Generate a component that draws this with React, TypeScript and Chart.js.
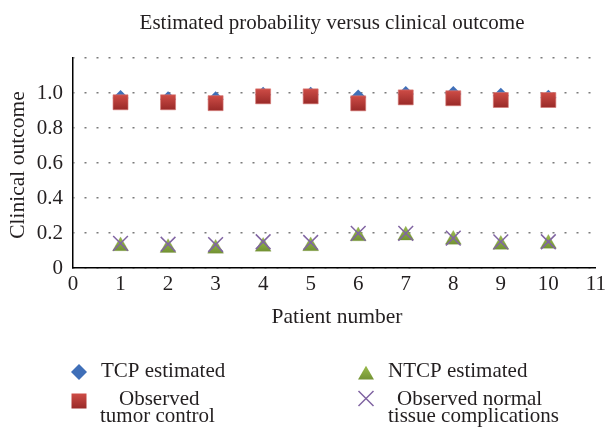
import React, { useEffect, useRef } from "react";
import { Chart, registerables } from "chart.js";

Chart.register(...registerables);

const TITLE = "Estimated probability versus clinical outcome";
const X_TITLE = "Patient number";
const Y_TITLE = "Clinical outcome";

const patients = [1, 2, 3, 4, 5, 6, 7, 8, 9, 10];
const tcpEstimated = [0.971, 0.964, 0.964, 0.99, 0.99, 0.975, 0.994, 0.994, 0.985, 0.973];
const observedTumorControl = [0.947, 0.947, 0.942, 0.981, 0.981, 0.941, 0.975, 0.97, 0.96, 0.96];
const ntcpEstimated = [0.125, 0.115, 0.111, 0.122, 0.125, 0.182, 0.186, 0.162, 0.133, 0.139];
const observedNormalComplications = [0.141, 0.136, 0.134, 0.15, 0.146, 0.198, 0.198, 0.171, 0.149, 0.15];

const legendTCP = "TCP estimated";
const legendObsTumor = ["Observed", "tumor control"];
const legendNTCP = "NTCP estimated";
const legendObsNormal = ["Observed normal", "tissue complications"];

const BLUE = "#3F6FB8";
const RED_TOP = "#CE4C46";
const RED_BOT = "#992A28";
const GREEN_TOP = "#94B548";
const GREEN_BOT = "#6C8B30";
const PURPLE = "#8064A2";
const TEXT = "#231F20";
const SERIF = '"Liberation Serif", "Times New Roman", serif';

function toPoints(vals: number[]) {
  return vals.map((v, i) => ({ x: patients[i], y: v }));
}

function vGrad(chart: any, py: number, half: number, top: string, bot: string) {
  const g = chart.ctx.createLinearGradient(0, py - half, 0, py + half);
  g.addColorStop(0, top);
  g.addColorStop(1, bot);
  return g;
}

function scriptGrad(top: string, bot: string, half: number) {
  return (ctx: any) => {
    const chart = ctx.chart;
    const ys = chart.scales && chart.scales.y;
    if (!ys || !ctx.parsed) return top;
    const py = ys.getPixelForValue(ctx.parsed.y);
    if (!Number.isFinite(py)) return top;
    return vGrad(chart, py, half, top, bot);
  };
}

const textPlugin = {
  id: "customText",
  afterDraw(chart: any) {
    const c = chart.ctx as CanvasRenderingContext2D;
    c.save();
    c.fillStyle = TEXT;
    c.textBaseline = "alphabetic";

    // title
    c.font = `21px ${SERIF}`;
    c.textAlign = "center";
    c.fillText(TITLE, 332, 29);

    // axis titles
    c.font = `21.5px ${SERIF}`;
    c.fillText(X_TITLE, 337, 323);
    c.save();
    c.translate(24, 165);
    c.rotate(-Math.PI / 2);
    c.fillText(Y_TITLE, 0, 0);
    c.restore();

    // legend markers
    const lx = 79;
    const rx = 366;
    c.fillStyle = BLUE;
    c.beginPath();
    c.moveTo(lx, 364);
    c.lineTo(lx + 8, 372);
    c.lineTo(lx, 380);
    c.lineTo(lx - 8, 372);
    c.closePath();
    c.fill();

    c.fillStyle = vGrad(chart, 401, 7.5, RED_TOP, RED_BOT);
    c.fillRect(lx - 7.5, 393.5, 15, 15);

    const tr = 9.2;
    const ty = 375;
    c.fillStyle = vGrad(chart, ty, 7, GREEN_TOP, GREEN_BOT);
    c.beginPath();
    c.moveTo(rx, ty - tr);
    c.lineTo(rx + tr * Math.sin((2 * Math.PI) / 3), ty - tr * Math.cos((2 * Math.PI) / 3));
    c.lineTo(rx - tr * Math.sin((2 * Math.PI) / 3), ty - tr * Math.cos((2 * Math.PI) / 3));
    c.closePath();
    c.fill();

    c.strokeStyle = PURPLE;
    c.lineWidth = 1.5;
    c.beginPath();
    c.moveTo(rx - 7.5, 391);
    c.lineTo(rx + 7.5, 406);
    c.moveTo(rx + 7.5, 391);
    c.lineTo(rx - 7.5, 406);
    c.stroke();

    c.fillStyle = TEXT;
    c.font = `21px ${SERIF}`;
    c.textAlign = "left";
    c.fillText(legendTCP, 101, 377);
    c.fillText(legendObsTumor[0], 119, 405);
    c.fillText(legendObsTumor[1], 100, 422);
    c.fillText(legendNTCP, 388, 377);
    c.fillText(legendObsNormal[0], 397, 405);
    c.fillText(legendObsNormal[1], 388, 422);
    c.restore();
  },
};

export default function App() {
  const ref = useRef<HTMLCanvasElement | null>(null);

  useEffect(() => {
    if (!ref.current) return;
    const chart = new Chart(ref.current, {
      type: "scatter",
      data: {
        datasets: [
          {
            label: legendTCP,
            data: toPoints(tcpEstimated),
            pointStyle: "rectRot",
            pointRadius: 8,
            pointBackgroundColor: BLUE,
            pointBorderColor: BLUE,
            pointBorderWidth: 0,
            order: 4,
          },
          {
            label: legendObsTumor.join(" "),
            data: toPoints(observedTumorControl),
            pointStyle: "rect",
            pointRadius: 10.6,
            pointBackgroundColor: scriptGrad(RED_TOP, RED_BOT, 7.5),
            pointBorderColor: "rgba(214,120,116,0.8)",
            pointBorderWidth: 0.8,
            order: 3,
          },
          {
            label: legendNTCP,
            data: toPoints(ntcpEstimated),
            pointStyle: "triangle",
            pointRadius: 9.2,
            pointBackgroundColor: scriptGrad(GREEN_TOP, GREEN_BOT, 7),
            pointBorderColor: "rgba(120,150,60,0.6)",
            pointBorderWidth: 0.5,
            order: 2,
          },
          {
            label: legendObsNormal.join(" "),
            data: toPoints(observedNormalComplications),
            pointStyle: "crossRot",
            pointRadius: 10.4,
            pointBackgroundColor: PURPLE,
            pointBorderColor: PURPLE,
            pointBorderWidth: 1.5,
            order: 1,
          },
        ],
      },
      options: {
        responsive: false,
        animation: false,
        devicePixelRatio: 1,
        layout: { padding: { top: 58, right: 12, left: 0, bottom: 0 } },
        plugins: {
          legend: { display: false },
          title: { display: false },
          tooltip: { enabled: false },
        },
        scales: {
          x: {
            type: "linear",
            min: 0,
            max: 11,
            afterFit: (s: any) => {
              s.height = 160;
            },
            ticks: {
              stepSize: 1,
              autoSkip: false,
              maxRotation: 0,
              padding: 4,
              color: TEXT,
              font: { family: SERIF, size: 21 },
            },
            grid: { display: false, drawTicks: false },
            border: { display: true, color: "#000", width: 1.5 },
          },
          y: {
            type: "linear",
            min: 0,
            max: 1.2,
            afterFit: (s: any) => {
              s.width = 73;
            },
            ticks: {
              stepSize: 0.2,
              padding: 10,
              color: TEXT,
              font: { family: SERIF, size: 21 },
              callback: (v: any) => {
                const n = Number(v);
                if (Math.abs(n) < 1e-9) return "0";
                if (Math.abs(n - 1.2) < 1e-6) return "";
                return n.toFixed(1);
              },
            },
            grid: { color: "#7a7a7a", lineWidth: 1.5, drawTicks: false },
            border: { display: true, color: "#000", width: 1.5, dash: [2, 10], dashOffset: 1 },
          },
        },
      },
      plugins: [textPlugin],
    });
    return () => chart.destroy();
  }, []);

  return (
    <div style={{ position: "fixed", left: 0, top: 0, width: 610, height: 428, background: "#fff" }}>
      <canvas ref={ref} width={610} height={428} style={{ display: "block", width: 610, height: 428 }} />
    </div>
  );
}
